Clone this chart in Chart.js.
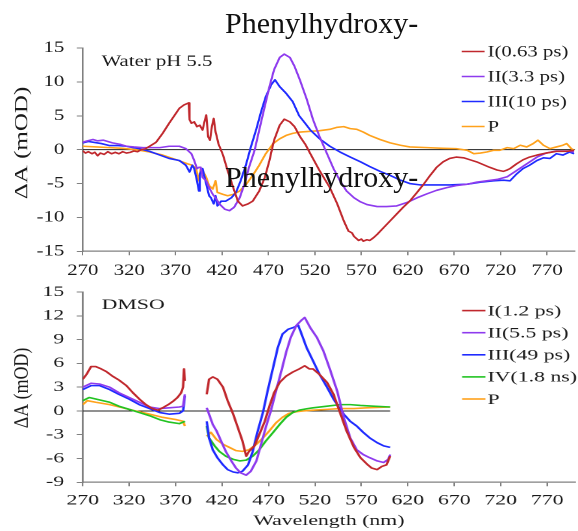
<!DOCTYPE html>
<html>
<head>
<meta charset="utf-8">
<script src="https://cdn.jsdelivr.net/npm/chart.js@4.4.1/dist/chart.umd.min.js"></script>
<style>
  html, body { margin: 0; padding: 0; background: #fff; width: 578px; height: 531px; overflow: hidden; }
  .panel { position: absolute; left: 0; transform-origin: 0 0; }
  .banner { position: absolute; left: 225px; font: 30px "Liberation Serif", serif; line-height: 30px; color: #111; white-space: nowrap; }
</style>
</head>
<body>
<div class="panel" style="top:0;width:445px;height:285px;transform:scaleX(1.2989)"><canvas id="water"></canvas></div>
<div class="panel" style="top:275px;width:385px;height:256px;transform:scaleX(1.5013)"><canvas id="dmso"></canvas></div>
<div class="banner" style="top:8px">Phenylhydroxy-</div>
<div class="banner" style="top:162px">Phenylhydroxy-</div>
<script>
// ---- axis ticks ----
const wavelengthTicks = [270, 320, 370, 420, 470, 520, 570, 620, 670, 720, 770];
const waterTicksY = [-15, -10, -5, 0, 5, 10, 15];
const dmsoTicksY = [-9, -6, -3, 0, 3, 6, 9, 12, 15];

// ---- Water pH 5.5 : [wavelength nm, ΔA mOD] ----
const waterI = [[270,-0.2],[273,-0.5],[276,-0.3],[280,-0.6],[283,-0.4],[286,-0.9],[289,-0.5],[293,-0.7],[297,-0.3],[301,-0.6],[305,-0.4],[309,-0.6],[313,-0.3],[317,-0.5],[321,-0.4],[325,-0.2],[329,-0.3],[333,0],[337,0.1],[342,0.5],[349,1.1],[356,2.4],[363,3.9],[369,5.1],[374,6.1],[379,6.6],[384,6.9],[385,4.4],[387,3.9],[390,4.1],[393,3.4],[396,3.6],[399,2.9],[401,4.1],[403,5.1],[405,1.9],[407,1.4],[409,3.4],[411,4.6],[413,2.6],[414,2.1],[416,0.9],[421,-0.8],[426,-3.1],[432,-5.6],[437,-7.6],[442,-8.3],[448,-8.0],[453,-7.6],[460,-6.1],[466,-4.1],[471,-1.6],[476,1.4],[482,3.6],[487,4.5],[493,4.1],[498,3.4],[504,1.9],[510,0.7],[515,-0.6],[525,-3.1],[536,-5.6],[544,-8.0],[551,-10.5],[556,-12.0],[560,-12.3],[562,-12.8],[567,-13.4],[570,-13.2],[572,-13.5],[576,-13.3],[579,-13.4],[583,-13.0],[587,-12.5],[594,-11.5],[601,-10.5],[608,-9.5],[615,-8.5],[622,-7.6],[630,-6.3],[637,-5.1],[644,-3.8],[651,-2.6],[658,-1.8],[665,-1.3],[672,-1.1],[680,-1.2],[687,-1.5],[694,-1.8],[701,-2.2],[708,-2.6],[716,-3.0],[723,-3.2],[727,-3.0],[730,-2.8],[737,-2.1],[744,-1.5],[751,-1.1],[759,-0.8],[769,-0.5],[780,-0.25],[791,-0.25],[799,-0.1]];
const waterII = [[270,1.1],[275,1.3],[281,1.5],[286,1.3],[292,1.4],[297,1.2],[302,1.0],[310,0.8],[317,0.5],[325,0.4],[335,0.3],[345,0.3],[353,0.3],[363,0.5],[374,0.5],[381,0.15],[387,-0.6],[390,-1.6],[393,-2.8],[395,-2.6],[397,-2.6],[399,-4.1],[403,-4.6],[406,-5.6],[410,-6.6],[414,-7.3],[417,-8.0],[423,-8.8],[428,-9.0],[433,-8.5],[439,-7.1],[444,-5.1],[449,-2.6],[455,-0.1],[460,2.9],[466,6.4],[471,9.3],[476,11.8],[482,13.6],[487,14.1],[493,13.6],[498,12.3],[504,10.2],[511,7.5],[518,4.4],[525,1.9],[533,-0.6],[540,-2.8],[547,-4.6],[554,-6.1],[562,-7.1],[569,-7.7],[576,-8.1],[587,-8.4],[597,-8.4],[608,-8.3],[619,-7.8],[630,-7.1],[641,-6.5],[651,-6.0],[662,-5.6],[672,-5.3],[684,-5.1],[694,-4.8],[705,-4.6],[716,-4.4],[727,-4.0],[737,-3.1],[748,-2.1],[759,-1.1],[769,-0.5],[780,-0.2],[791,-0.2],[799,-0.35]];
const waterIII = [[270,1.0],[276,1.2],[281,1.1],[290,0.9],[299,0.6],[308,0.6],[317,0.5],[324,0.3],[331,0.15],[342,-0.25],[353,-0.8],[363,-1.3],[374,-1.6],[381,-2.3],[385,-3.3],[388,-2.3],[390,-2.8],[393,-4.6],[395,-6.1],[396,-3.6],[399,-2.8],[403,-5.1],[406,-6.8],[408,-7.1],[411,-8.0],[413,-6.8],[415,-8.3],[419,-7.6],[424,-7.6],[430,-7.1],[435,-6.3],[440,-4.6],[446,-2.1],[451,0.4],[457,3.1],[462,5.6],[467,7.8],[473,9.6],[477,10.3],[482,9.3],[489,8.3],[496,7.1],[503,5.0],[510,3.8],[515,2.9],[525,1.6],[536,0.5],[547,-0.35],[558,-1.1],[569,-1.8],[579,-2.5],[590,-3.2],[601,-3.8],[612,-4.5],[622,-5.0],[633,-5.2],[648,-5.2],[665,-5.2],[684,-5.1],[698,-4.8],[712,-4.6],[723,-4.5],[730,-4.6],[737,-3.6],[744,-2.8],[751,-2.3],[759,-1.6],[766,-1.2],[773,-1.3],[780,-0.6],[787,-0.8],[794,-0.35],[799,-0.6]];
const waterP = [[270,0.5],[285,0.4],[299,0.3],[313,0.2],[327,0],[342,-0.35],[356,-0.8],[371,-1.5],[383,-2.1],[388,-2.3],[392,-2.8],[395,-4.6],[397,-2.8],[400,-3.3],[403,-4.1],[406,-5.3],[410,-5.8],[413,-4.6],[415,-6.3],[421,-6.6],[426,-6.8],[432,-6.6],[439,-6.1],[446,-5.1],[453,-3.8],[460,-2.3],[467,-0.6],[475,0.9],[482,1.6],[489,2.1],[496,2.4],[504,2.6],[515,2.7],[525,2.8],[536,3.0],[544,3.3],[551,3.4],[558,3.1],[565,3.0],[572,2.6],[579,2.1],[590,1.5],[601,1.0],[612,0.65],[622,0.4],[641,0.3],[658,0.2],[672,0.15],[684,-0.1],[691,-0.6],[698,-0.5],[705,-0.35],[712,-0.1],[719,-0.1],[727,0.3],[734,0.15],[741,0.65],[748,0.4],[755,0.9],[760,1.4],[766,0.65],[773,0.15],[780,0.4],[787,0.65],[791,0.9],[796,0.15],[799,-0.1]];
const waterBaseline = [270, 800];

// ---- DMSO : UV segment and visible segment ----
const dmsoI_uv = [[270,4.0],[274,4.6],[279,5.6],[284,5.6],[290,5.3],[295,5.0],[302,4.4],[309,3.9],[317,3.2],[324,2.3],[331,1.5],[338,0.8],[345,0.3],[351,0.1],[356,0.4],[362,0.8],[367,1.2],[372,1.7],[376,2.3],[378,3.0],[379,5.3],[380,3.8]];
const dmsoI_vis = [[403.5,2.1],[406,4.0],[410,4.3],[415,4.0],[421,3.0],[426,1.3],[432,-0.4],[437,-2.1],[442,-3.8],[446,-5.7],[449,-5.1],[455,-4.4],[460,-3.0],[466,-1.3],[471,0.6],[476,2.3],[482,3.6],[489,4.4],[496,4.9],[503,5.3],[509,5.7],[514,5.3],[518,5.3],[525,4.6],[533,3.6],[540,2.1],[547,-0.2],[554,-2.5],[562,-4.6],[569,-5.9],[576,-6.7],[581,-7.2],[587,-7.4],[592,-7.0],[597,-6.8],[601,-5.7]];
const dmsoII_uv = [[270,3.0],[279,3.5],[288,3.4],[299,3.0],[309,2.3],[320,1.7],[331,1.1],[342,0.5],[353,0.3],[363,0.4],[374,0.5],[378,0.6],[380,2.1]];
const dmsoII_vis = [[403.5,0.4],[406,-0.4],[410,-1.7],[414,-2.5],[419,-3.8],[424,-5.1],[430,-6.3],[435,-7.2],[440,-7.8],[446,-8.1],[451,-7.6],[457,-6.3],[462,-4.2],[467,-2.1],[473,0.2],[478,2.5],[484,5.1],[489,7.4],[494,9.3],[500,10.8],[505,11.4],[509,11.8],[515,10.5],[522,9.3],[529,7.6],[536,5.3],[544,2.5],[551,-0.8],[558,-3.4],[565,-4.9],[572,-5.5],[579,-5.9],[587,-6.3],[594,-6.5],[599,-6.1],[601,-5.5]];
const dmsoIII_uv = [[270,2.7],[279,3.2],[288,3.2],[299,2.7],[309,2.1],[320,1.5],[331,0.8],[342,0.3],[353,-0.2],[363,-0.4],[374,-0.3],[378,0],[380,1.9]];
const dmsoIII_vis = [[403.5,-1.3],[406,-3.4],[410,-4.9],[415,-5.9],[421,-6.8],[426,-7.4],[432,-7.7],[437,-7.8],[442,-7.6],[448,-6.8],[453,-5.1],[458,-2.7],[464,-0.2],[469,2.5],[475,5.5],[480,8.0],[485,9.7],[491,10.3],[496,10.5],[502,10.8],[505,9.9],[511,8.0],[518,6.3],[525,4.6],[533,3.0],[540,1.5],[545,0.6],[551,-0.4],[558,-1.3],[565,-1.9],[572,-2.7],[579,-3.4],[587,-4.0],[594,-4.4],[601,-4.6]];
const dmsoIV_uv = [[270,1.3],[277,1.7],[288,1.4],[299,1.1],[309,0.6],[320,0.2],[331,-0.2],[342,-0.6],[353,-1.1],[363,-1.4],[374,-1.6],[380,-1.3]];
const dmsoIV_vis = [[403.5,-1.9],[406,-3.4],[412,-4.4],[417,-5.1],[424,-5.7],[432,-6.1],[439,-6.3],[446,-6.2],[453,-5.7],[460,-4.9],[467,-3.8],[475,-2.7],[482,-1.7],[489,-0.8],[496,-0.2],[503,0.1],[512,0.3],[518,0.4],[533,0.6],[547,0.8],[558,0.8],[569,0.7],[583,0.6],[601,0.5]];
const dmsoP_uv = [[270,0.8],[275,1.3],[284,1.1],[299,0.8],[313,0.4],[327,0],[342,-0.4],[356,-0.8],[371,-1.1],[378,-1.3],[380,-1.9]];
const dmsoP_vis = [[403.5,-3.2],[408,-2.7],[414,-3.6],[421,-4.2],[428,-4.6],[435,-5.0],[442,-5.1],[449,-4.9],[457,-4.2],[464,-3.4],[471,-2.5],[478,-1.5],[485,-0.8],[492,-0.3],[500,-0.1],[507,0],[518,0.1],[533,0.2],[547,0.3],[562,0.3],[576,0.4],[601,0.5]];
const dmsoBaseline = [270, 601];

const waterLabels = ['I(0.63 ps)', 'II(3.3 ps)', 'III(10 ps)', 'P'];
const dmsoLabels = ['I(1.2 ps)', 'II(5.5 ps)', 'III(49 ps)', 'IV(1.8 ns)', 'P'];

// ---- styling ----
const RED = '#C0282D', PURPLE = '#8E3BEE', BLUE = '#1F2BFF', GREEN = '#22C322', ORANGE = '#FFA21C';
const SERIF = '"Liberation Serif", "Times New Roman", serif';
const INK = '#1a1a1a', AXIS = '#808080';

const toXY = pairs => pairs.map(([x, y]) => ({ x, y }));
// join two spectral windows with a break so the line is not bridged
const joinWindows = (a, b) => toXY(a).concat([{ x: (a[a.length - 1][0] + b[0][0]) / 2, y: null }], toXY(b));

function curve(label, color, points) {
  return { label, data: points, borderColor: color, backgroundColor: color, borderWidth: 1.6,
           pointRadius: 0, tension: 0, spanGaps: false, borderJoinStyle: 'round', order: 1 };
}
function baseline(ext) {
  return { label: '', data: [{ x: ext[0], y: 0 }, { x: ext[1], y: 0 }], borderColor: '#222',
           borderWidth: 1, pointRadius: 0, order: 5 };
}

// annotation text, key and axis titles drawn on top of each panel
const panelDecor = {
  id: 'panelDecor',
  afterDraw(chart, args, o) {
    const ctx = chart.ctx;
    ctx.save();
    ctx.fillStyle = INK;
    ctx.textAlign = 'left';
    ctx.textBaseline = 'middle';
    ctx.font = `${o.size}px ${SERIF}`;
    ctx.fillText(o.note, o.noteX, o.noteY);

    let row = 0;
    chart.data.datasets.forEach(ds => {
      if (!ds.label) return;
      const y = o.keyY + row * o.keyStep;
      ctx.strokeStyle = ds.borderColor;
      ctx.lineWidth = 1.6;
      ctx.beginPath();
      ctx.moveTo(o.keyX0, y);
      ctx.lineTo(o.keyX1, y);
      ctx.stroke();
      ctx.fillText(ds.label, o.keyText, y + 1);
      row++;
    });

    ctx.save();
    ctx.translate(o.yTitleX, o.yTitleY);
    ctx.rotate(-Math.PI / 2);
    ctx.scale(1, o.yTitleSquash);
    ctx.textAlign = 'center';
    ctx.font = `${o.yTitleSize}px ${SERIF}`;
    ctx.fillText('ΔA (mOD)', 0, 0);
    ctx.restore();

    if (o.xTitle) {
      ctx.textAlign = 'center';
      ctx.font = `${o.size}px ${SERIF}`;
      const mid = (chart.chartArea.left + chart.chartArea.right) / 2;
      ctx.fillText(o.xTitle, mid, o.xTitleY);
    }
    ctx.restore();
  }
};

function makePanel(id, p) {
  return new Chart(document.getElementById(id), {
    type: 'line',
    data: { datasets: p.datasets },
    plugins: [panelDecor],
    options: {
      responsive: true,
      maintainAspectRatio: false,
      devicePixelRatio: 2,
      animation: false,
      events: [],
      layout: { padding: { top: p.top, right: p.right, left: 0, bottom: 0 } },
      plugins: { legend: { display: false }, tooltip: { enabled: false }, panelDecor: p.decor },
      scales: {
        x: {
          type: 'linear', min: 270, max: 800,
          afterBuildTicks: s => { s.ticks = wavelengthTicks.map(v => ({ value: v })); },
          afterFit: s => { s.height = p.xHeight; },
          grid: { drawOnChartArea: false, drawTicks: true, tickLength: 4, color: AXIS, lineWidth: 1 },
          border: { display: true, color: AXIS, width: 1.3 },
          ticks: { font: { family: SERIF, size: p.size }, color: INK, padding: p.xPad,
                   maxRotation: 0, autoSkip: false, callback: v => String(v) }
        },
        y: {
          type: 'linear', min: p.yTicks[0], max: p.yTicks[p.yTicks.length - 1],
          afterBuildTicks: s => { s.ticks = p.yTicks.map(v => ({ value: v })); },
          afterFit: s => { s.width = p.yWidth; },
          grid: { drawOnChartArea: false, drawTicks: true, tickLength: p.yTick, color: AXIS, lineWidth: 1 },
          border: { display: true, color: AXIS, width: 1.3 },
          ticks: { font: { family: SERIF, size: p.size }, color: INK, padding: p.yPad,
                   autoSkip: false, callback: v => String(v) }
        }
      }
    }
  });
}

const waterColors = [RED, PURPLE, BLUE, ORANGE];
const waterSeries = [waterI, waterII, waterIII, waterP];
makePanel('water', {
  datasets: [baseline(waterBaseline)].concat(
    waterSeries.map((s, i) => curve(waterLabels[i], waterColors[i], toXY(s)))),
  yTicks: waterTicksY,
  top: 48, right: 2.3, xHeight: 33.7, yWidth: 63.7,
  size: 16, xPad: 6, yTick: 4.6, yPad: 9.6,
  decor: {
    size: 16, note: 'Water pH 5.5', noteX: 78.2, noteY: 62,
    keyX0: 355.4, keyX1: 373.1, keyText: 375.4, keyY: 51.5, keyStep: 25,
    yTitleX: 17.2, yTitleY: 143, yTitleSize: 25, yTitleSquash: 0.6
  }
});

const dmsoColors = [RED, PURPLE, BLUE, GREEN, ORANGE];
const dmsoWindows = [[dmsoI_uv, dmsoI_vis], [dmsoII_uv, dmsoII_vis], [dmsoIII_uv, dmsoIII_vis],
                     [dmsoIV_uv, dmsoIV_vis], [dmsoP_uv, dmsoP_vis]];
makePanel('dmso', {
  datasets: [baseline(dmsoBaseline)].concat(
    dmsoWindows.map((w, i) => curve(dmsoLabels[i], dmsoColors[i], joinWindows(w[0], w[1])))),
  yTicks: dmsoTicksY,
  top: 16, right: 2, xHeight: 48.7, yWidth: 55.1,
  size: 14.5, xPad: 5.6, yTick: 4, yPad: 8.4,
  decor: {
    size: 14.5, note: 'DMSO', noteX: 67.8, noteY: 30,
    keyX0: 307.8, keyX1: 323.3, keyText: 324.7, keyY: 35.6, keyStep: 22.1,
    yTitleX: 14.9, yTitleY: 113, yTitleSize: 17.9, yTitleSquash: 0.77,
    xTitle: 'Wavelength (nm)', xTitleY: 246
  }
});
</script>
</body>
</html>
